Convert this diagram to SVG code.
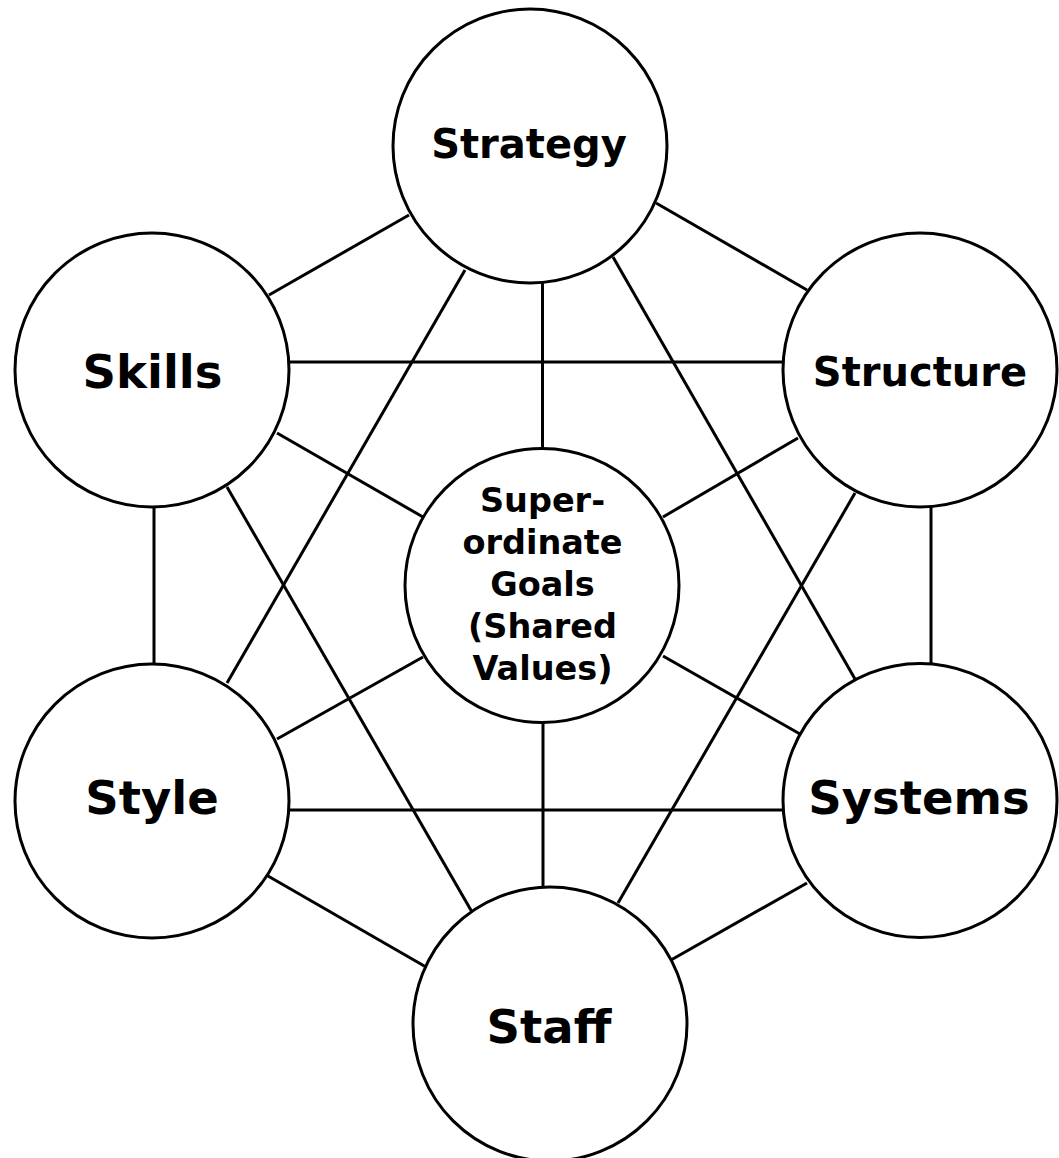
<svg xmlns="http://www.w3.org/2000/svg" width="1059" height="1158" viewBox="0 0 1059 1158">
<style>
.n{fill:#fff;stroke:#000;stroke-width:3}
.c line{stroke:#000;stroke-width:3}
text{font-family:"DejaVu Sans","Liberation Sans",sans-serif;font-weight:bold;text-anchor:middle;fill:#000}
.b{font-size:46.5px}
.m{font-size:40px}
.s{font-size:33.5px}
</style>
<rect width="1059" height="1158" fill="#fff"/>
<g id="connectors" class="c">
<line x1="409" y1="215" x2="269" y2="295"/>
<line x1="656" y1="203" x2="807" y2="290"/>
<line x1="542.5" y1="283" x2="542.5" y2="448"/>
<line x1="465" y1="270" x2="227" y2="683"/>
<line x1="613" y1="257" x2="855" y2="679"/>
<line x1="290" y1="362" x2="783" y2="362"/>
<line x1="277" y1="433" x2="423" y2="517"/>
<line x1="154" y1="507" x2="154" y2="664"/>
<line x1="227" y1="487" x2="472" y2="912"/>
<line x1="798" y1="438" x2="663" y2="517"/>
<line x1="855" y1="493" x2="618" y2="903"/>
<line x1="931" y1="507" x2="931" y2="664"/>
<line x1="277" y1="739" x2="423" y2="657"/>
<line x1="289" y1="810" x2="783" y2="810"/>
<line x1="268" y1="876" x2="426" y2="967"/>
<line x1="543" y1="723" x2="543" y2="888"/>
<line x1="663" y1="656" x2="800" y2="734"/>
<line x1="807" y1="883" x2="671" y2="960"/>
</g>
<g id="strategy"><circle class="n" cx="530" cy="146" r="137"/><text class="m" x="529" y="158">Strategy</text></g>
<g id="skills"><circle class="n" cx="152" cy="370" r="137"/><text class="b" x="152.5" y="388">Skills</text></g>
<g id="structure"><circle class="n" cx="920" cy="370" r="137"/><text class="m" x="920" y="386">Structure</text></g>
<g id="shared-values"><circle class="n" cx="542" cy="585.5" r="137"/>
<text class="s" x="542.5" y="512">Super-</text>
<text class="s" x="542.5" y="554">ordinate</text>
<text class="s" x="542.5" y="596">Goals</text>
<text class="s" x="542.5" y="638">(Shared</text>
<text class="s" x="542.5" y="680">Values)</text></g>
<g id="style"><circle class="n" cx="152" cy="801" r="137"/><text class="b" x="152" y="814">Style</text></g>
<g id="systems"><circle class="n" cx="920" cy="800.5" r="137"/><text class="b" x="919" y="814">Systems</text></g>
<g id="staff"><circle class="n" cx="550" cy="1024" r="137"/><text class="b" x="549" y="1043">Staff</text></g>
</svg>
